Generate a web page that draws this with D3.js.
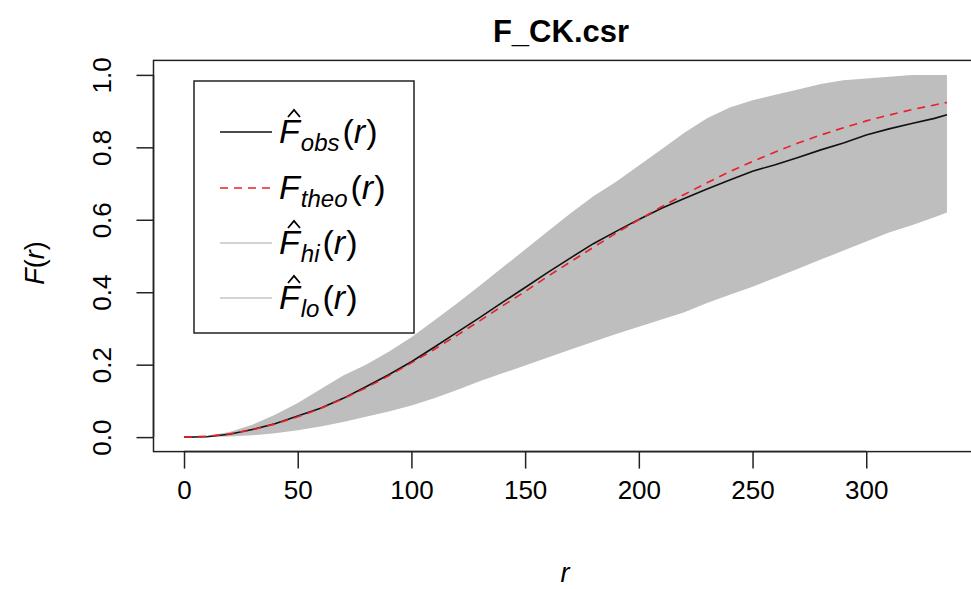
<!DOCTYPE html>
<html>
<head>
<meta charset="utf-8">
<script src="https://cdn.jsdelivr.net/npm/d3@7"></script>
<style>
  html, body { margin: 0; padding: 0; background: #fff; }
  svg { display: block; }
  text { font-family: "Liberation Sans", Arial, sans-serif; fill: #000; }
</style>
</head>
<body>
<svg id="chart" width="971" height="589"></svg>
<script>
// ---- data ----
const rVals = [0,10,20,30,40,50,60,70,80,90,100,110,120,130,140,150,160,170,180,190,200,210,220,230,240,250,260,270,280,290,300,310,320,330,335.5];
const obsVals = [0,0.001,0.008,0.021,0.037,0.058,0.080,0.107,0.139,0.172,0.208,0.248,0.289,0.330,0.372,0.413,0.455,0.495,0.534,0.568,0.601,0.632,0.659,0.685,0.710,0.734,0.752,0.772,0.793,0.812,0.834,0.851,0.866,0.880,0.890];
const theoVals = [0,0.002,0.009,0.020,0.036,0.056,0.079,0.106,0.136,0.169,0.205,0.242,0.281,0.321,0.362,0.402,0.444,0.484,0.524,0.563,0.600,0.636,0.670,0.702,0.733,0.761,0.787,0.812,0.834,0.854,0.873,0.889,0.904,0.917,0.924];
const hiVals = [0,0.003,0.014,0.034,0.062,0.094,0.132,0.170,0.200,0.236,0.276,0.322,0.369,0.418,0.468,0.518,0.568,0.618,0.665,0.705,0.750,0.795,0.840,0.880,0.910,0.930,0.945,0.960,0.975,0.985,0.990,0.995,1.0,1.0,1.0];
const loVals = [0,0,0.002,0.005,0.011,0.019,0.029,0.042,0.056,0.071,0.087,0.107,0.130,0.154,0.176,0.198,0.220,0.242,0.263,0.285,0.305,0.325,0.345,0.370,0.393,0.415,0.440,0.465,0.490,0.515,0.540,0.565,0.585,0.607,0.620];
const xTicks = [0,50,100,150,200,250,300];
const yTicks = [0,0.2,0.4,0.6,0.8,1.0];
const yTickLabels = ["0.0","0.2","0.4","0.6","0.8","1.0"];
const legendSubs = ["obs","theo","hi","lo"];
const legendHats = [true,false,true,true];
const titleText = "F_CK.csr";

// ---- layout ----
const svg = d3.select("#chart");
const rMax = d3.max(rVals);
const xPad = 0.04 * rMax;
const x = d3.scaleLinear().domain([-xPad, rMax + xPad]).range([153.5, 977.5]);
const y = d3.scaleLinear().domain([-0.04, 1.04]).range([451.6, 60.4]);

const data = rVals.map((r, i) => ({r, obs: obsVals[i], theo: theoVals[i], hi: hiVals[i], lo: loVals[i]}));

// envelope
svg.append("path")
  .datum(data)
  .attr("fill", "#bebebe")
  .attr("d", d3.area().x(d => x(d.r)).y0(d => y(d.lo)).y1(d => y(d.hi)));

// obs line
svg.append("path")
  .datum(data)
  .attr("fill", "none").attr("stroke", "#111").attr("stroke-width", 1.6)
  .attr("d", d3.line().x(d => x(d.r)).y(d => y(d.obs)));

// theo line
svg.append("path")
  .datum(data)
  .attr("fill", "none").attr("stroke", "#e8202a").attr("stroke-width", 1.6)
  .attr("stroke-dasharray", "8,6")
  .attr("d", d3.line().x(d => x(d.r)).y(d => y(d.theo)));

// box
svg.append("rect")
  .attr("x", x.range()[0]).attr("y", y.range()[1])
  .attr("width", x.range()[1] - x.range()[0]).attr("height", y.range()[0] - y.range()[1])
  .attr("fill", "none").attr("stroke", "#222").attr("stroke-width", 1.5);

// axes
const xAxis = svg.append("g")
  .attr("transform", `translate(0,${y.range()[0]})`)
  .call(d3.axisBottom(x).tickValues(xTicks).tickSize(17).tickPadding(12).tickSizeOuter(0));
xAxis.select(".domain").attr("d", `M${x(xTicks[0])},0H${x(xTicks[xTicks.length-1])}`).attr("stroke", "#222").attr("stroke-width", 1.5);
xAxis.selectAll(".tick line").attr("stroke", "#222").attr("stroke-width", 1.5);
xAxis.selectAll(".tick text").attr("font-size", 26).attr("font-family", '"Liberation Sans", Arial, sans-serif').attr("fill", "#111");

const yAxis = svg.append("g")
  .attr("transform", `translate(${x.range()[0]},0)`)
  .call(d3.axisLeft(y).tickValues(yTicks).tickFormat((d, i) => yTickLabels[i]).tickSize(17).tickSizeOuter(0));
yAxis.select(".domain").attr("d", `M0,${y(1)}V${y(0)}`).attr("stroke", "#222").attr("stroke-width", 1.5);
yAxis.selectAll(".tick line").attr("stroke", "#222").attr("stroke-width", 1.5);
yAxis.selectAll(".tick text")
  .attr("font-size", 26).attr("font-family", '"Liberation Sans", Arial, sans-serif').attr("fill", "#111")
  .attr("x", null).attr("dy", null)
  .attr("text-anchor", "middle")
  .attr("transform", "translate(-52,0) rotate(-90)")
  .attr("y", 9);

// title
svg.append("text")
  .attr("x", 561).attr("y", 42)
  .attr("text-anchor", "middle")
  .attr("font-size", 31).attr("font-weight", "bold")
  .text(titleText);

// axis titles
svg.append("text")
  .attr("x", 565).attr("y", 582)
  .attr("text-anchor", "middle")
  .attr("font-size", 27).attr("font-style", "italic")
  .text("r");

const yl = svg.append("text")
  .attr("transform", "translate(44,263) rotate(-90)")
  .attr("text-anchor", "middle")
  .attr("font-size", 27);
yl.append("tspan").attr("font-style", "italic").text("F");
yl.append("tspan").text("(");
yl.append("tspan").attr("font-style", "italic").text("r");
yl.append("tspan").text(")");

// legend
const leg = svg.append("g");
leg.append("rect")
  .attr("x", 194).attr("y", 81).attr("width", 220).attr("height", 252)
  .attr("fill", "#fff").attr("stroke", "#222").attr("stroke-width", 1.5);
const legY = [132, 188, 243, 298];
const legStroke = ["#111", "#e8202a", "#c4c4c4", "#c4c4c4"];
const legDash = [null, "8,6", null, null];
legendSubs.forEach((s, i) => {
  const ly = legY[i];
  leg.append("line")
    .attr("x1", 220).attr("x2", 272).attr("y1", ly).attr("y2", ly)
    .attr("stroke", legStroke[i]).attr("stroke-width", 1.6)
    .attr("stroke-dasharray", legDash[i]);
  const t = leg.append("text").attr("x", 279).attr("y", ly + 11).attr("font-size", 34);
  t.append("tspan").attr("font-style", "italic").text("F");
  t.append("tspan").attr("font-style", "italic").attr("font-size", 24).attr("dy", 8).attr("dx", 1).text(s);
  t.append("tspan").attr("dy", -8).attr("dx", 3).text("(");
  t.append("tspan").attr("font-style", "italic").text("r");
  t.append("tspan").attr("dx", 1).text(")");
  if (legendHats[i]) {
    // circumflex accent drawn as a small chevron above the F
    leg.append("path")
      .attr("d", `M${288},${ly - 15}L${294},${ly - 22}L${300},${ly - 15}`)
      .attr("fill", "none").attr("stroke", "#000").attr("stroke-width", 1.8)
      .attr("stroke-linejoin", "miter");
  }
});
</script>
</body>
</html>
